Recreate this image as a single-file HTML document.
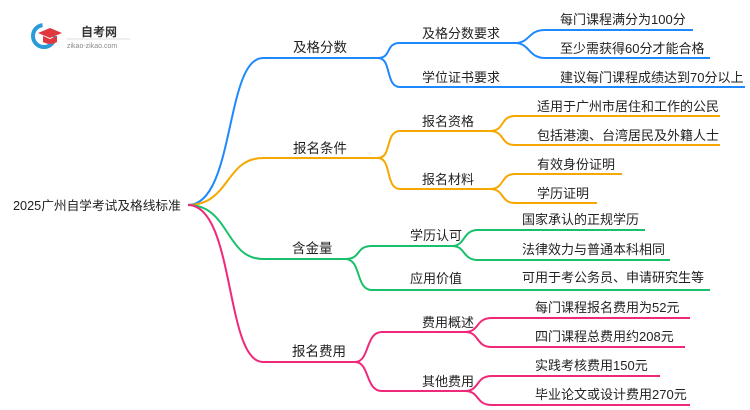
<html><body style="margin:0;background:#fff">
<svg width="750" height="410" xmlns="http://www.w3.org/2000/svg" style="font-family:'Liberation Sans','Noto Sans CJK SC',sans-serif">
<g fill="none" stroke-width="2">
<g stroke="#1e88ff">
<path d="M188 205 C235 205 225 58 263 58 H378"/>
<path d="M378 58 C392 58 385 43 400 43 H515"/>
<path d="M378 58 C392 58 385 87 400 87 H745"/>
<path d="M515 43 C530 43 528 30 545 30 H693"/>
<path d="M515 43 C530 43 528 58 545 58 H710"/>
</g>
<g stroke="#f5a800">
<path d="M188 205 C230 205 225 158 263 158 H378"/>
<path d="M378 158 C392 158 385 131 400 131 H490"/>
<path d="M378 158 C392 158 385 189 400 189 H490"/>
<path d="M490 131 C505 131 500 116 515 116 H720"/>
<path d="M490 131 C505 131 500 145 515 145 H720"/>
<path d="M490 189 C505 189 500 174 515 174 H622"/>
<path d="M490 189 C505 189 500 203 515 203 H597"/>
</g>
<g stroke="#19c06a">
<path d="M188 205 C230 205 225 259 263 259 H345"/>
<path d="M345 259 C362 259 355 246 372 246 H452"/>
<path d="M345 259 C362 259 355 290 372 290 H710"/>
<path d="M452 246 C466 246 462 230 478 230 H645"/>
<path d="M452 246 C466 246 462 260 478 260 H670"/>
</g>
<g stroke="#f0287a">
<path d="M188 205 C235 205 225 362 263 362 H355"/>
<path d="M355 362 C370 362 365 332 382 332 H465"/>
<path d="M355 362 C370 362 365 391 382 391 H465"/>
<path d="M465 332 C480 332 475 318 492 318 H690"/>
<path d="M465 332 C480 332 475 347 492 347 H685"/>
<path d="M465 391 C480 391 475 376 492 376 H660"/>
<path d="M465 391 C480 391 475 405 492 405 H690"/>
</g>
</g>
<g fill="#222" font-size="13">
<text x="13" y="210" font-size="12.7">2025广州自学考试及格线标准</text>
<text x="293" y="52" font-size="13.5">及格分数</text>
<text x="293" y="153" font-size="13.5">报名条件</text>
<text x="292" y="253" font-size="13.5">含金量</text>
<text x="292" y="356" font-size="13.5">报名费用</text>
<text x="422" y="38">及格分数要求</text>
<text x="422" y="82">学位证书要求</text>
<text x="422" y="126">报名资格</text>
<text x="422" y="184">报名材料</text>
<text x="410" y="240">学历认可</text>
<text x="410" y="283">应用价值</text>
<text x="422" y="327">费用概述</text>
<text x="422" y="386">其他费用</text>
<text x="560" y="24">每门课程满分为100分</text>
<text x="560" y="53">至少需获得60分才能合格</text>
<text x="560" y="82">建议每门课程成绩达到70分以上</text>
<text x="537" y="111">适用于广州市居住和工作的公民</text>
<text x="537" y="140">包括港澳、台湾居民及外籍人士</text>
<text x="537" y="169">有效身份证明</text>
<text x="537" y="198">学历证明</text>
<text x="522" y="224">国家承认的正规学历</text>
<text x="522" y="254">法律效力与普通本科相同</text>
<text x="522" y="282">可用于考公务员、申请研究生等</text>
<text x="535" y="312">每门课程报名费用为52元</text>
<text x="535" y="341">四门课程总费用约208元</text>
<text x="535" y="370">实践考核费用150元</text>
<text x="535" y="399">毕业论文或设计费用270元</text>
</g>
<circle cx="44" cy="36" r="11" fill="none" stroke="#2a9bd8" stroke-width="4" stroke-dasharray="50 20"/>
<path d="M38 33 L50 28 L62 33 L50 38 Z" fill="#e0383e"/>
<path d="M43 36 V42 Q50 46 57 42 V36 L50 39 Z" fill="#e0383e"/>
<text x="81" y="36" font-size="12" font-weight="bold" fill="#333">自考网</text>
<line x1="67" y1="39" x2="130" y2="39" stroke="#ddd"/>
<text x="67" y="48" font-size="7" fill="#888">zikao-zikao.com</text>
</svg>
</body></html>
